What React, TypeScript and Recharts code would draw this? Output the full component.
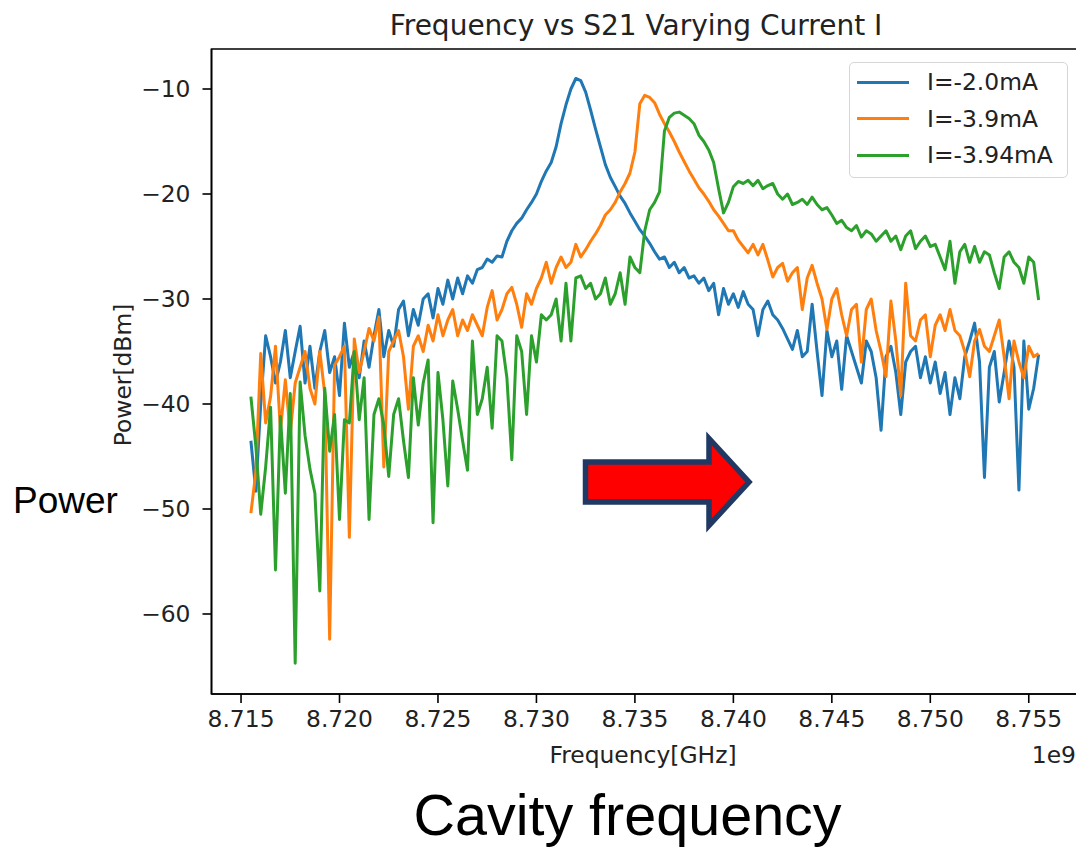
import { LineChart, Line, XAxis, YAxis, Legend, ReferenceArea } from 'recharts'

// sweep: 8.7155 GHz .. 8.7555 GHz in 0.25 MHz steps (161 points)
const startGHz = 8.7155
const stepGHz = 0.00025

const xTicks = [8.715, 8.72, 8.725, 8.73, 8.735, 8.74, 8.745, 8.75, 8.755]
const yTicks = [-60, -50, -40, -30, -20, -10]

const seriesNames = ['I=-2.0mA', 'I=-3.9mA', 'I=-3.94mA']
const seriesColors = ['#1f77b4', '#ff7f0e', '#2ca02c']

// S21 power [dBm]
const powerI20 = [
  -43.5, -48.3, -40.0, -33.5, -35.5, -38.0, -36.0, -33.0, -37.5, -35.0,
  -32.6, -38.0, -34.5, -38.5, -35.0, -33.0, -37.0, -35.5, -39.2, -32.3,
  -36.5, -35.0, -37.5, -34.0, -36.5, -33.5, -31.0, -35.5, -33.0, -34.5,
  -31.0, -30.2, -33.5, -31.0, -32.5, -30.0, -29.5, -31.8, -29.0, -30.5,
  -28.2, -30.0, -28.0, -29.5, -27.8, -28.5, -27.2, -27.0, -26.2, -26.5,
  -25.9, -26.0, -24.5, -23.5, -22.8, -22.3, -21.5, -20.8, -20.0, -18.8,
  -17.8, -17.0, -15.5, -13.3, -11.5, -10.0, -9.0, -9.2, -10.3, -12.0,
  -13.8, -15.5, -17.2, -18.4, -19.3, -20.2, -20.9, -21.8, -22.6, -23.4,
  -24.0, -24.7, -25.5, -26.2, -26.0, -27.0, -26.5, -27.5, -27.0, -28.0,
  -27.8, -28.5, -28.0, -29.2, -28.5, -31.5, -29.0, -30.5, -29.5, -30.8,
  -29.3, -30.5, -31.0, -33.5, -31.0, -30.2, -31.5, -32.0, -32.8, -33.8,
  -34.8, -33.0, -35.5, -35.0, -30.5, -35.0, -39.2, -33.0, -35.5, -34.0,
  -38.6, -33.5, -35.0, -36.5, -38.0, -34.0, -35.0, -37.5, -42.5, -35.5,
  -34.5, -37.0, -41.0, -36.0, -35.0, -34.5, -37.5, -35.5, -38.0, -36.0,
  -39.0, -37.0, -41.0, -37.5, -39.5, -35.5, -34.0, -32.3, -36.0, -47.0,
  -36.5, -35.0, -39.8, -37.0, -34.0, -36.5, -48.2, -34.0, -40.5, -38.5,
  -35.3,
]

const powerI39 = [
  -50.4, -46.5, -35.2, -41.8, -39.3, -34.5, -42.5, -37.7, -42.8, -38.0,
  -36.5, -35.0, -38.5, -40.0, -35.0, -39.0, -62.4, -36.3, -35.5, -34.5,
  -52.7, -33.8, -37.0, -35.0, -32.8, -34.0, -31.7, -46.0, -35.0, -34.0,
  -33.0, -35.5, -40.5, -34.5, -33.5, -35.0, -32.5, -34.0, -31.5, -33.5,
  -32.0, -31.0, -33.5, -32.0, -33.0, -31.5, -32.5, -33.5, -30.8, -29.2,
  -32.0, -31.0, -29.5, -28.9, -30.5, -32.7, -29.5, -30.5, -29.0, -28.0,
  -26.5, -28.5, -27.0, -26.0, -27.0, -26.5, -24.8, -26.0, -25.3, -24.5,
  -23.8, -23.0, -22.0, -21.5, -20.8, -19.8, -19.0, -18.0, -16.0, -11.4,
  -10.6, -10.8, -11.3, -12.4, -13.3, -14.1, -15.0, -16.0, -16.9, -17.8,
  -18.6, -19.4, -20.0, -20.7, -21.5, -22.1, -22.8, -23.5, -23.5, -24.4,
  -25.0, -25.6, -24.8, -25.8, -24.8, -26.3, -27.9, -27.0, -26.6, -28.3,
  -27.5, -27.0, -31.0, -28.0, -26.8, -28.5, -30.0, -32.9, -30.0, -29.0,
  -31.5, -33.5, -31.0, -30.5, -36.0, -31.0, -30.0, -33.0, -35.0, -37.4,
  -30.2, -34.0, -39.2, -28.5, -33.5, -34.0, -32.0, -31.5, -35.5, -32.5,
  -31.5, -33.0, -31.0, -33.0, -33.5, -35.0, -37.4, -34.0, -32.9, -34.5,
  -35.0, -33.5, -32.0, -35.5, -39.5, -34.0, -36.0, -37.5, -34.5, -35.5,
  -35.2,
]

const powerI394 = [
  -39.3, -44.0, -50.5, -46.0, -40.3, -55.8, -41.2, -48.5, -39.0, -64.7,
  -37.9, -43.0, -46.2, -48.5, -57.8, -38.5, -44.5, -41.0, -51.0, -41.5,
  -41.8, -35.0, -41.5, -37.5, -51.0, -41.0, -39.5, -42.0, -46.9, -41.0,
  -39.5, -43.5, -47.0, -37.5, -42.0, -38.0, -35.8, -51.3, -37.0, -41.5,
  -47.8, -37.8, -40.5, -43.5, -46.3, -34.0, -41.0, -39.5, -36.5, -42.3,
  -33.5, -34.0, -37.5, -45.3, -33.5, -35.0, -41.0, -33.5, -36.0, -31.5,
  -32.0, -31.5, -30.0, -34.0, -28.5, -34.0, -28.0, -27.8, -29.0, -28.5,
  -30.0, -29.5, -28.0, -30.5, -29.5, -27.5, -30.5, -26.0, -27.0, -27.5,
  -23.5, -21.5, -20.8, -19.8, -14.0, -12.7, -12.3, -12.2, -12.5, -12.8,
  -13.3, -14.4, -15.0, -15.8, -17.0, -19.5, -21.8, -20.8, -19.3, -18.8,
  -19.0, -18.7, -19.2, -18.7, -19.5, -19.2, -19.0, -20.0, -20.5, -20.0,
  -21.0, -20.8, -20.5, -21.0, -20.3, -21.0, -21.5, -21.3, -22.0, -22.8,
  -22.5, -23.2, -23.5, -23.0, -24.1, -23.5, -23.8, -24.5, -24.0, -23.5,
  -24.5, -24.0, -25.3, -24.0, -23.5, -25.2, -24.5, -24.0, -25.0, -24.8,
  -26.0, -27.2, -24.5, -28.5, -25.5, -24.8, -26.5, -25.0, -26.5, -25.5,
  -25.8, -27.5, -29.0, -26.0, -25.5, -26.5, -27.0, -28.5, -26.0, -26.5,
  -30.1,
]

const rows = powerI20.map((p, i) => ({
  f: startGHz + i * stepGHz,
  i20: p,
  i39: powerI39[i],
  i394: powerI394[i],
}))

const xDomain = [8.7135, 8.7575]
const yDomain = [-67.62, -6.19]

const font = 'DejaVu Sans, sans-serif'
const fs = 23.4
const tickStyle = { fontSize: fs, fill: '#222', fontFamily: font }
const spine = { stroke: '#000', strokeWidth: 1.6 }

const fmtX = (v: number) => v.toFixed(3)
const fmtY = (v: number) => (v < 0 ? '\u2212' + Math.abs(v) : String(v))

function LegendBox() {
  return (
    <div
      style={{
        boxSizing: 'border-box',
        width: 219,
        height: 116,
        border: '1.5px solid #d6d6d6',
        borderRadius: 5,
        background: 'rgba(255,255,255,0.8)',
        position: 'relative',
        fontFamily: font,
        fontSize: fs,
        color: '#222',
      }}
    >
      {seriesNames.map((name, i) => (
        <div key={name}>
          <div
            style={{
              position: 'absolute',
              left: 7,
              top: 17.5 + i * 36.5,
              width: 52,
              height: 3,
              background: seriesColors[i],
            }}
          />
          <div
            style={{
              position: 'absolute',
              left: 77,
              top: 19 + i * 36.5 - 14,
              lineHeight: '28px',
              whiteSpace: 'nowrap',
            }}
          >
            {name}
          </div>
        </div>
      ))}
    </div>
  )
}

export default function App() {
  return (
    <div
      style={{
        position: 'absolute',
        left: 0,
        top: 0,
        width: 1076,
        height: 854,
        overflow: 'hidden',
        background: '#fff',
      }}
    >
      <LineChart
        width={1080}
        height={854}
        data={rows}
        margin={{ top: 49, right: 2, bottom: 120, left: 151.5 }}
      >
        <XAxis
          dataKey="f"
          type="number"
          domain={xDomain}
          allowDataOverflow
          ticks={xTicks}
          interval={0}
          tickFormatter={fmtX}
          height={40}
          tickSize={9}
          tickMargin={7}
          tick={tickStyle}
          axisLine={spine}
          tickLine={spine}
        />
        <YAxis
          type="number"
          domain={yDomain}
          allowDataOverflow
          ticks={yTicks}
          interval={0}
          tickFormatter={fmtY}
          width={60}
          tickSize={9}
          tickMargin={12}
          tick={tickStyle}
          axisLine={spine}
          tickLine={spine}
        />
        <ReferenceArea
          x1={xDomain[0]}
          x2={xDomain[1]}
          y1={yDomain[0]}
          y2={yDomain[1]}
          fill="none"
          stroke="#000"
          strokeWidth={1.6}
          ifOverflow="visible"
        />
        <Line
          dataKey="i20"
          name={seriesNames[0]}
          stroke={seriesColors[0]}
          strokeWidth={3}
          strokeLinejoin="round"
          dot={false}
          isAnimationActive={false}
        />
        <Line
          dataKey="i39"
          name={seriesNames[1]}
          stroke={seriesColors[1]}
          strokeWidth={3}
          strokeLinejoin="round"
          dot={false}
          isAnimationActive={false}
        />
        <Line
          dataKey="i394"
          name={seriesNames[2]}
          stroke={seriesColors[2]}
          strokeWidth={3}
          strokeLinejoin="round"
          dot={false}
          isAnimationActive={false}
        />
        <Legend
          layout="vertical"
          align="center"
          verticalAlign="middle"
          content={() => <LegendBox />}
          wrapperStyle={{ left: 849, top: 62, width: 219, height: 116 }}
        />
      </LineChart>
      <svg
        width={1076}
        height={854}
        style={{ position: 'absolute', left: 0, top: 0, pointerEvents: 'none' }}
      >
        <text x={636} y={35} textAnchor="middle" fontSize={28} fontFamily={font} fill="#222">
          Frequency vs S21 Varying Current I
        </text>
        <text x={643} y={763} textAnchor="middle" fontSize={fs} fontFamily={font} fill="#222">
          Frequency[GHz]
        </text>
        <text x={1076} y={763} textAnchor="end" fontSize={fs} fontFamily={font} fill="#222">
          1e9
        </text>
        <text
          transform="translate(131,375) rotate(-90)"
          textAnchor="middle"
          fontSize={fs}
          fontFamily={font}
          fill="#222"
        >
          Power[dBm]
        </text>
        <text x={13} y={513} fontSize={37} fontFamily="Liberation Sans, Arial, sans-serif" fill="#000">
          Power
        </text>
        <text
          x={627.5}
          y={835}
          textAnchor="middle"
          fontSize={57.5}
          fontFamily="Liberation Sans, Arial, sans-serif"
          fill="#000"
        >
          Cavity frequency
        </text>
        <polygon
          points="585.5,462 709,462 709,438.5 749,482 709,525.5 709,502 585.5,502"
          fill="#ff0000"
          stroke="#1f3864"
          strokeWidth={5.5}
          strokeLinejoin="miter"
        />
      </svg>
    </div>
  )
}
